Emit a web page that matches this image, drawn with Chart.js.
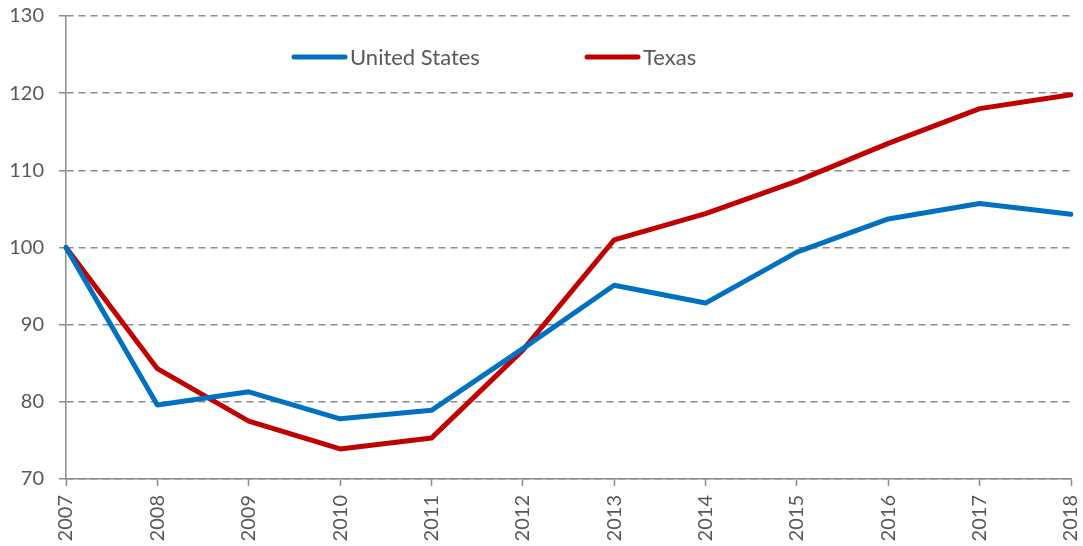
<!DOCTYPE html>
<html>
<head>
<meta charset="utf-8">
<script src="https://cdn.jsdelivr.net/npm/chart.js@4"></script>
<style>
  html, body { margin: 0; padding: 0; background: #fff; }
  #wrap { width: 1083px; height: 546px; }
</style>
</head>
<body>
<div id="wrap"><canvas id="canvas"></canvas></div>
<script>
let years = ['2007', '2008', '2009', '2010', '2011', '2012', '2013', '2014', '2015', '2016', '2017', '2018'];
let usValues = [100, 79.6, 81.3, 77.8, 78.9, 86.9, 95.1, 92.8, 99.4, 103.7, 105.7, 104.3];
let texasValues = [100, 84.3, 77.5, 73.9, 75.3, 86.7, 101.0, 104.4, 108.6, 113.5, 118.0, 119.8];
let yTicks = [70, 80, 90, 100, 110, 120, 130];

let textColor = '#595959';
let axisColor = '#8c8c8c';
let fontFamily = 'Lato, "Liberation Sans", sans-serif';

// legend drawn over the plot, like the original
let insideLegend = {
    id: 'insideLegend',
    afterDraw: (chart) => {
        let c = chart.ctx;
        let spots = [292, 585];
        c.save();
        chart.data.datasets.forEach((ds, i) => {
            let x = spots[i];
            let y = 57;
            c.strokeStyle = ds.borderColor;
            c.lineWidth = 5;
            c.lineCap = 'round';
            c.beginPath();
            c.moveTo(x + 2, y);
            c.lineTo(x + 53, y);
            c.stroke();
            c.fillStyle = textColor;
            c.font = '22px ' + fontFamily;
            c.textAlign = 'left';
            c.textBaseline = 'middle';
            c.fillText(ds.label, x + 58, y + 1);
        });
        c.restore();
    }
};

let ctx = document.getElementById('canvas').getContext('2d');

let myLineChart = new Chart(ctx, {
    type: 'line',
    data: {
        labels: years,
        datasets: [{
            label: 'United States',
            borderColor: '#0070C0',
            backgroundColor: '#0070C0',
            data: usValues,
        }, {
            label: 'Texas',
            borderColor: '#C00000',
            backgroundColor: '#C00000',
            data: texasValues,
        }],
    },
    options: {
        responsive: true,
        maintainAspectRatio: false,
        animation: false,
        layout: { padding: 0 },
        elements: {
            line: { borderWidth: 5, tension: 0, borderCapStyle: 'round', borderJoinStyle: 'round' },
            point: { radius: 0, hoverRadius: 0 },
        },
        plugins: {
            legend: { display: false },
            tooltip: { enabled: false },
        },
        scales: {
            x: {
                offset: false,
                grid: {
                    drawOnChartArea: false,
                    drawTicks: true,
                    tickLength: 7,
                    tickColor: axisColor,
                    tickWidth: 1.5,
                },
                border: { color: axisColor, width: 1.5 },
                ticks: {
                    minRotation: 90,
                    maxRotation: 90,
                    padding: 9,
                    color: textColor,
                    font: { family: fontFamily, size: 20 },
                    autoSkip: false,
                },
                afterFit: (scale) => {
                    scale.height = 67;
                    scale.paddingLeft = 0;
                    scale.paddingRight = 12;
                },
            },
            y: {
                min: 70,
                max: 130,
                afterBuildTicks: (scale) => { scale.ticks = yTicks.map(v => ({ value: v })); },
                grid: {
                    color: axisColor,
                    lineWidth: 1.5,
                    tickBorderDash: [],
                    tickLength: 7,
                    tickColor: axisColor,
                    tickWidth: 1.5,
                    drawTicks: true,
                },
                border: { color: axisColor, width: 1.5, dash: [7, 5] },
                ticks: {
                    padding: 15,
                    color: textColor,
                    font: { family: fontFamily, size: 20 },
                },
                afterFit: (scale) => {
                    scale.width = 66;
                    scale.paddingTop = 16;
                    scale.paddingBottom = 0;
                },
            },
        },
    },
    plugins: [insideLegend],
});
</script>
</body>
</html>
